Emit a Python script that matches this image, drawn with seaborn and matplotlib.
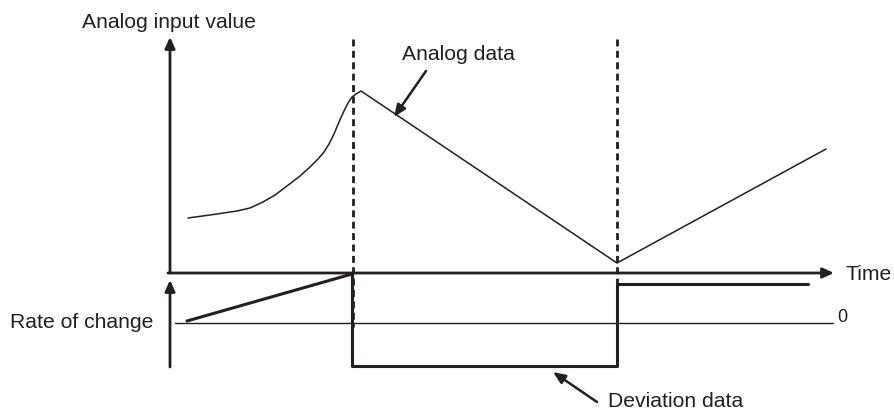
import matplotlib
matplotlib.use("Agg")
import matplotlib.pyplot as plt
import seaborn as sns
import pandas as pd

# ---- data (diagram units: x = time, y = screen-down value) ----
analog_t = [188, 210, 237, 250, 263, 275, 287, 300, 310, 318, 324, 329, 334,
            339, 344, 348, 352, 356, 361, 617, 826]
analog_v = [219, 216, 212, 209, 203, 196, 187, 177, 168, 160, 153, 145, 135,
            123, 112, 104, 98, 95, 92, 264, 150]

rate_t = [187, 352]
rate_v = [322, 275]

dev_t = [352, 352, 617, 617, 808]
dev_v = [275, 367, 367, 285, 285]

event_t = [353, 617]
event_top = 40
event_bottom = 328

time_axis_y = 274
zero_y = 324
axis_x = 170

INK = "#231f20"

sns.set_theme(style="white")
plt.rcParams["font.family"] = ["Liberation Sans", "DejaVu Sans"]

fig = plt.figure(figsize=(8.95, 4.14), dpi=100)
ax = fig.add_axes([0, 0, 1, 1])
ax.set_xlim(0, 895)
ax.set_ylim(414, 0)
ax.axis("off")

sns.lineplot(x=analog_t, y=analog_v, ax=ax, color=INK, lw=1.1, sort=False, estimator=None)
sns.lineplot(x=rate_t, y=rate_v, ax=ax, color=INK, lw=2.2, sort=False, estimator=None)
sns.lineplot(x=dev_t, y=dev_v, ax=ax, color=INK, lw=2.2, sort=False, estimator=None)

# zero line
sns.lineplot(x=[175, 833], y=[zero_y, zero_y], ax=ax, color=INK, lw=1.0, estimator=None)

# event dashed lines
for t in event_t:
    ax.plot([t, t], [event_top, event_bottom], color=INK, lw=2.0,
            linestyle=(0, (2.5, 1.6)))

# axes arrows
arrow_kw = dict(arrowstyle="-|>,head_length=0.55,head_width=0.25", color=INK, lw=2.0,
                shrinkA=0, shrinkB=0)
ax.annotate("", xy=(axis_x, 38), xytext=(axis_x, time_axis_y), arrowprops=arrow_kw)
ax.annotate("", xy=(834, time_axis_y), xytext=(168, time_axis_y), arrowprops=arrow_kw)
ax.annotate("", xy=(axis_x, 281), xytext=(axis_x, 368), arrowprops=arrow_kw)

# pointer arrows
ptr_kw = dict(arrowstyle="-|>,head_length=0.6,head_width=0.25", color=INK, lw=1.8,
              shrinkA=0, shrinkB=0)
ax.annotate("", xy=(394, 118), xytext=(426, 72), arrowprops=ptr_kw)
ax.annotate("", xy=(553, 373), xytext=(597, 403), arrowprops=ptr_kw)

# text
fs = 15.2
ax.text(82, 22, "Analog input value", fontsize=fs, color=INK, va="center", ha="left")
ax.text(402, 54, "Analog data", fontsize=fs, color=INK, va="center", ha="left")
ax.text(846, 275, "Time", fontsize=fs, color=INK, va="center", ha="left")
ax.text(837, 318, "0", fontsize=13, color=INK, va="center", ha="left")
ax.text(10, 323, "Rate of change", fontsize=fs, color=INK, va="center", ha="left")
ax.text(608, 402, "Deviation data", fontsize=fs, color=INK, va="center", ha="left")

fig.savefig("out.png", dpi=100)
